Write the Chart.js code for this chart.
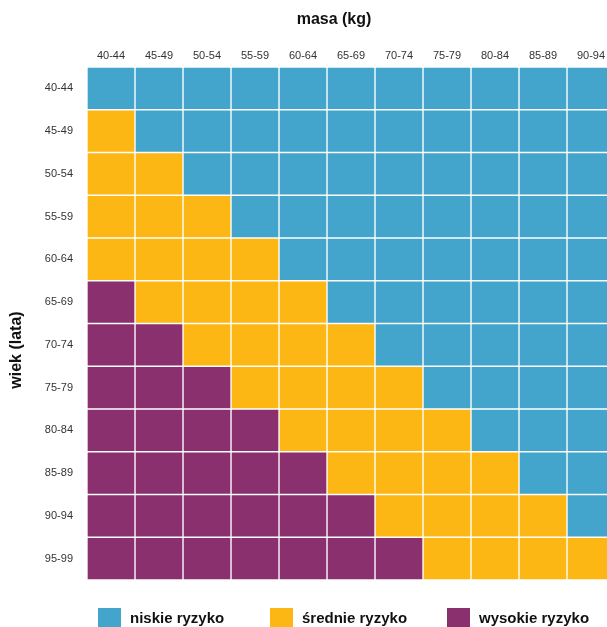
<!DOCTYPE html>
<html>
<head>
<meta charset="utf-8">
<script src="https://cdn.jsdelivr.net/npm/chart.js@4.4.1/dist/chart.umd.min.js"></script>
<style>
  html, body { margin: 0; padding: 0; background: #fff; overflow: hidden; }
  #wrap { width: 620px; height: 627px; }
</style>
</head>
<body>
<div id="wrap"><canvas id="chart" width="620" height="627"></canvas></div>
<script>
// ── Data ─────────────────────────────────────────────────────
const massLabels = ['40-44', '45-49', '50-54', '55-59', '60-64', '65-69',
                    '70-74', '75-79', '80-84', '85-89', '90-94'];
const ageLabels  = ['40-44', '45-49', '50-54', '55-59', '60-64', '65-69',
                    '70-74', '75-79', '80-84', '85-89', '90-94', '95-99'];

// risk per cell: 0 = niskie, 1 = średnie, 2 = wysokie (rows = age, cols = mass)
const riskRows = [
  [0, 0, 0, 0, 0, 0, 0, 0, 0, 0, 0],
  [1, 0, 0, 0, 0, 0, 0, 0, 0, 0, 0],
  [1, 1, 0, 0, 0, 0, 0, 0, 0, 0, 0],
  [1, 1, 1, 0, 0, 0, 0, 0, 0, 0, 0],
  [1, 1, 1, 1, 0, 0, 0, 0, 0, 0, 0],
  [2, 1, 1, 1, 1, 0, 0, 0, 0, 0, 0],
  [2, 2, 1, 1, 1, 1, 0, 0, 0, 0, 0],
  [2, 2, 2, 1, 1, 1, 1, 0, 0, 0, 0],
  [2, 2, 2, 2, 1, 1, 1, 1, 0, 0, 0],
  [2, 2, 2, 2, 2, 1, 1, 1, 1, 0, 0],
  [2, 2, 2, 2, 2, 2, 1, 1, 1, 1, 0],
  [2, 2, 2, 2, 2, 2, 2, 1, 1, 1, 1],
];

const riskNames  = ['niskie ryzyko', 'średnie ryzyko', 'wysokie ryzyko'];
const riskColors = ['#43a5cb', '#fcb715', '#8a306f'];

const FONT = "'Liberation Sans', Arial, sans-serif";

// one stacked dataset per mass column, each cell = 1 unit wide
const datasets = massLabels.map((m, c) => ({
  label: m,
  data: ageLabels.map(() => 1),
  backgroundColor: riskRows.map(row => riskColors[row[c]]),
  borderColor: '#ffffff',
  borderWidth: 1,
  borderSkipped: false,
  barPercentage: 1,
  categoryPercentage: 1,
}));

// ── Titles + legend drawn on the canvas ──────────────────────
const decorPlugin = {
  id: 'decor',
  afterDraw(chart) {
    const ctx = chart.ctx;
    ctx.save();
    ctx.fillStyle = '#111';
    ctx.font = `bold 16px ${FONT}`;
    ctx.textAlign = 'center';
    ctx.textBaseline = 'middle';
    ctx.fillText('masa (kg)', 334, 20);

    ctx.translate(17, 350);
    ctx.rotate(-Math.PI / 2);
    ctx.fillText('wiek (lata)', 0, 0);
    ctx.restore();

    // legend
    const xs = [98, 270, 447];
    ctx.save();
    ctx.font = `bold 15px ${FONT}`;
    ctx.textAlign = 'left';
    ctx.textBaseline = 'middle';
    riskNames.forEach((name, i) => {
      ctx.fillStyle = riskColors[i];
      ctx.fillRect(xs[i], 608, 23, 23);
      ctx.fillStyle = '#111';
      ctx.fillText(name, xs[i] + 32, 619);
    });
    ctx.restore();
  }
};

new Chart(document.getElementById('chart'), {
  type: 'bar',
  data: { labels: ageLabels, datasets },
  plugins: [decorPlugin],
  options: {
    indexAxis: 'y',
    responsive: false,
    animation: false,
    layout: { padding: { left: 0, right: 5, top: 0, bottom: 47 } },
    plugins: {
      legend: { display: false },
      title: { display: false },
      tooltip: { enabled: false },
    },
    scales: {
      x: {
        type: 'linear',
        stacked: true,
        min: 0,
        max: massLabels.length,
        display: false,
      },
      x2: {
        type: 'category',
        labels: massLabels,
        position: 'top',
        offset: true,
        grid: { display: false, drawTicks: false },
        border: { display: false },
        ticks: { color: '#333', font: { family: FONT, size: 11 }, padding: 4, maxRotation: 0 },
        afterFit: s => { s.height = 67; },
      },
      y: {
        stacked: true,
        grid: { display: false, drawTicks: false },
        border: { display: false },
        ticks: { color: '#333', font: { family: FONT, size: 11 }, padding: 14 },
        afterFit: s => { s.width = 87; },
      },
    },
  },
});
</script>
</body>
</html>
